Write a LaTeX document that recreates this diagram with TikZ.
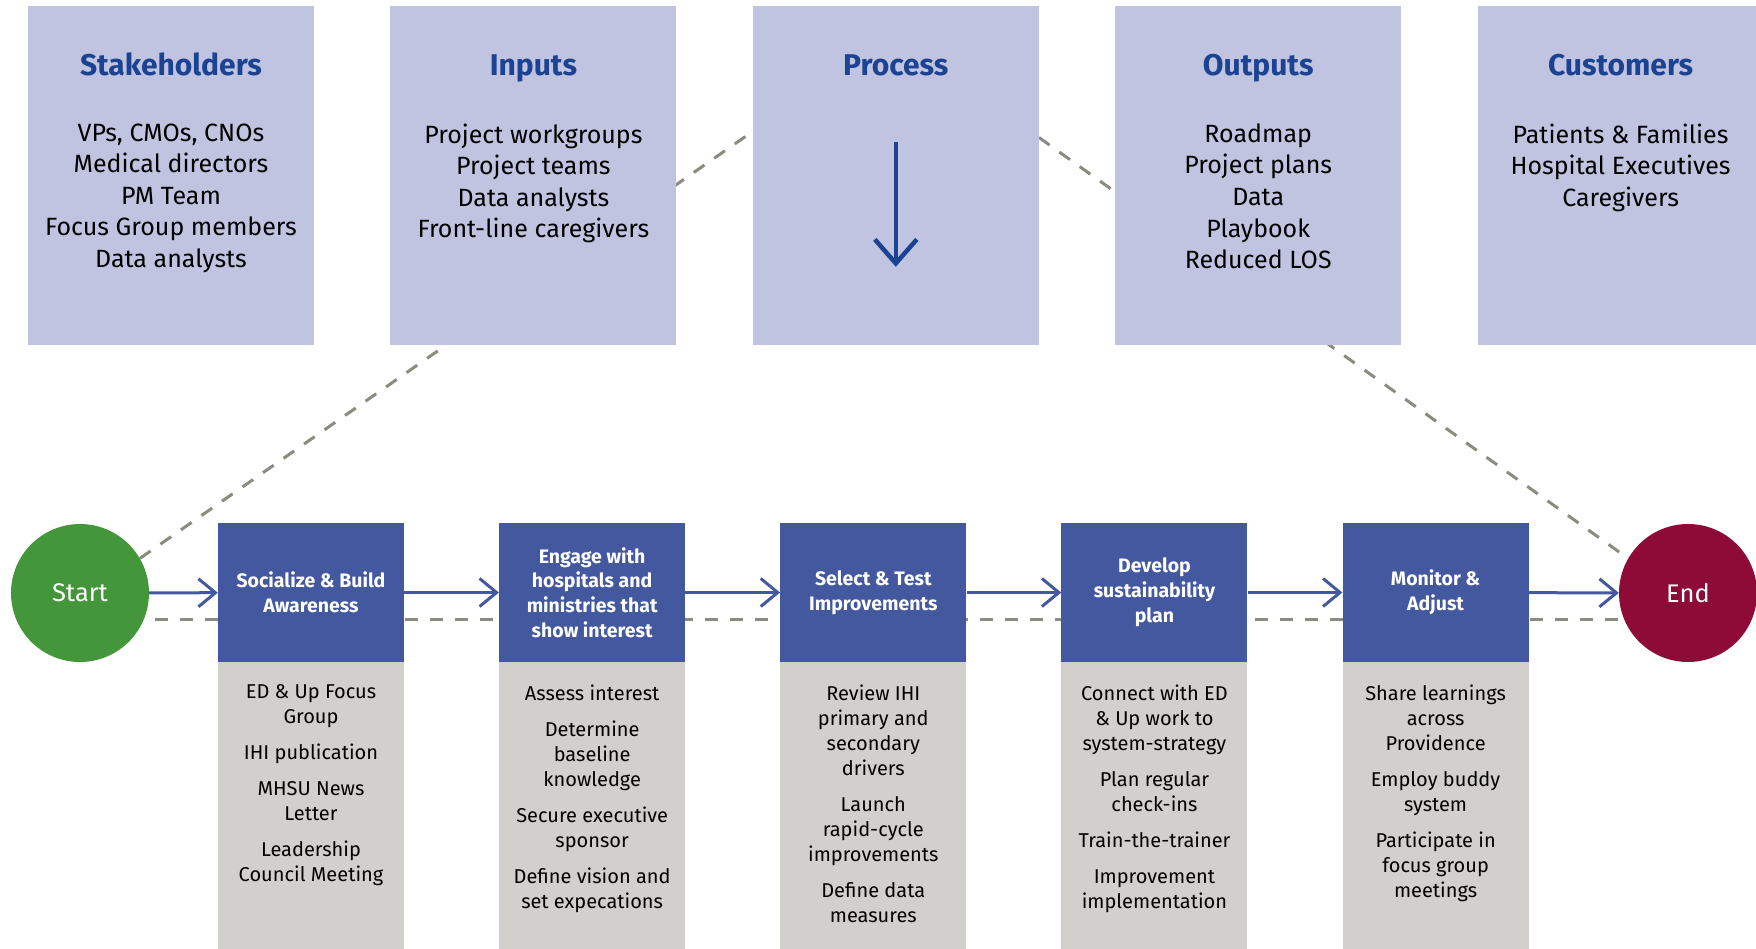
\documentclass[tikz,border=0pt]{standalone}
\usepackage{fontspec}
\setmainfont{Fira Sans}
\usetikzlibrary{positioning,arrows.meta}
\definecolor{panelfill}{HTML}{C0C4E0}
\definecolor{heading}{HTML}{1B4391}
\definecolor{stepblue}{HTML}{43589E}
\definecolor{notefill}{HTML}{D1D0CC}
\definecolor{startgreen}{HTML}{43973A}
\definecolor{endred}{HTML}{8E0A37}
\definecolor{guidegrey}{HTML}{8B8B80}
\pgfdeclarelayer{bg}
\pgfsetlayers{bg,main}
\tikzset{
  panel/.style    = {fill=panelfill, minimum width=286pt, minimum height=339pt, inner sep=0pt},
  head/.style     = {text=heading, font=\fontsize{30}{36}\selectfont\bfseries, inner sep=0pt, anchor=base},
  items/.style    = {align=center, font=\fontsize{25}{31.6}\selectfont, inner sep=0pt, anchor=north,
                     execute at begin node=\strut},
  stepbox/.style  = {fill=stepblue, text=white, minimum width=186pt, minimum height=139pt,
                     align=center, inner sep=0pt, font=\fontsize{19.5}{24.8}\selectfont\bfseries},
  notebox/.style  = {fill=notefill, minimum width=186pt, minimum height=290pt, inner sep=0pt, anchor=north},
  notes/.style    = {align=center, inner sep=0pt, anchor=north, font=\fontsize{20}{25}\selectfont},
  terminal/.style = {circle, minimum size=138pt, inner sep=0pt, text=white, font=\fontsize{25.5}{30}\selectfont},
  link/.style     = {draw=stepblue, line width=3pt,
                     -{Straight Barb[length=17pt,width=28pt,line width=3pt]}},
  guide/.style    = {draw=guidegrey, line width=3pt, dash pattern=on 13pt off 12pt},
}
\begin{document}
\begin{tikzpicture}[x=1pt,y=-1pt]
  \useasboundingbox (0,0) rectangle (1756,948);
  % top row
  \node[panel] (stake) at (171,175.5) {};
  \node[panel, right=76pt of stake] (inputs) {};
  \node[panel, right=76pt of inputs] (proc) {};
  \node[panel, right=76pt of proc] (outs) {};
  \node[panel, right=76pt of outs] (cust) {};
  \node[head] (stake-t) at ([yshift=-70pt]stake.north) {Stakeholders};
  \node[head] (inputs-t) at ([yshift=-70pt]inputs.north) {Inputs};
  \node[head] (proc-t) at ([yshift=-70pt]proc.north) {Process};
  \node[head] (outs-t) at ([yshift=-70pt]outs.north) {Outputs};
  \node[head] (cust-t) at ([yshift=-70pt]cust.north) {Customers};
  \node[items] (stake-b) at ([yshift=-117.5pt]stake.north)
    {VPs, CMOs, CNOs\\Medical directors\\PM Team\\Focus Group members\\Data analysts};
  \node[items] (inputs-b) at ([yshift=-117.5pt]inputs.north)
    {Project workgroups\\Project teams\\Data analysts\\Front-line caregivers};
  \node[items] (outs-b) at ([yshift=-117.5pt]outs.north)
    {Roadmap\\Project plans\\Data\\Playbook\\Reduced LOS};
  \node[items] (cust-b) at ([yshift=-117.5pt]cust.north)
    {Patients \& Families\\Hospital Executives\\Caregivers};
  \draw[heading, line width=4.5pt, -{Straight Barb[length=24pt,width=42pt,line width=4.5pt]}]
    ([yshift=-136pt]proc.north) -- ([yshift=-261pt]proc.north);
  % bottom row
  \node[terminal, fill=startgreen] (start) at (80,593) {Start};
  \node[stepbox] (s1) at (311,592.5) {Socialize \& Build\\Awareness};
  \node[stepbox, right=94.75pt of s1] (s2) {Engage with\\hospitals and\\ministries that\\show interest};
  \node[stepbox, right=94.75pt of s2] (s3) {Select \& Test\\Improvements};
  \node[stepbox, right=94.75pt of s3] (s4) {Develop\\sustainability\\plan};
  \node[stepbox, right=94.75pt of s4] (s5) {Monitor \&\\Adjust};
  \node[terminal, fill=endred] (end) at (1688,593) {End};
  \foreach \s in {1,...,5}{
    \node[notebox, below=0pt of s\s] (n\s) {};}
  \node[notes] (n1-t) at ([yshift=-22pt]n1.north)
    {ED \& Up Focus\\Group\\[11pt]IHI publication\\[11pt]MHSU News\\Letter\\[11pt]Leadership\\Council Meeting};
  \node[notes] (n2-t) at ([yshift=-22pt]n2.north)
    {Assess interest\\[11pt]Determine\\baseline\\knowledge\\[11pt]Secure executive\\sponsor\\[11pt]Define vision and\\set expecations};
  \node[notes] (n3-t) at ([yshift=-22pt]n3.north)
    {Review IHI\\primary and\\secondary\\drivers\\[11pt]Launch\\rapid-cycle\\improvements\\[11pt]Define data\\measures};
  \node[notes] (n4-t) at ([yshift=-22pt]n4.north)
    {Connect with ED\\\& Up work to\\system-strategy\\[11pt]Plan regular\\check-ins\\[11pt]Train-the-trainer\\[11pt]Improvement\\implementation};
  \node[notes] (n5-t) at ([yshift=-22pt]n5.north)
    {Share learnings\\across\\Providence\\[11pt]Employ buddy\\system\\[11pt]Participate in\\focus group\\meetings};
  \draw[link] (start) -- (s1);
  \draw[link] (s1) -- (s2);
  \draw[link] (s2) -- (s3);
  \draw[link] (s3) -- (s4);
  \draw[link] (s4) -- (s5);
  \draw[link] (s5) -- (end);
  % dashed guides behind the boxes
  \begin{pgfonlayer}{bg}
    \draw[guide] ([yshift=-26pt]start.center) -- ([yshift=-26pt]end.center);
    \draw[guide] (start.30) -- ([yshift=44pt]proc.west);
    \draw[guide] ([yshift=38pt]proc.east) -- (end.150);
  \end{pgfonlayer}
\end{tikzpicture}
\end{document}
